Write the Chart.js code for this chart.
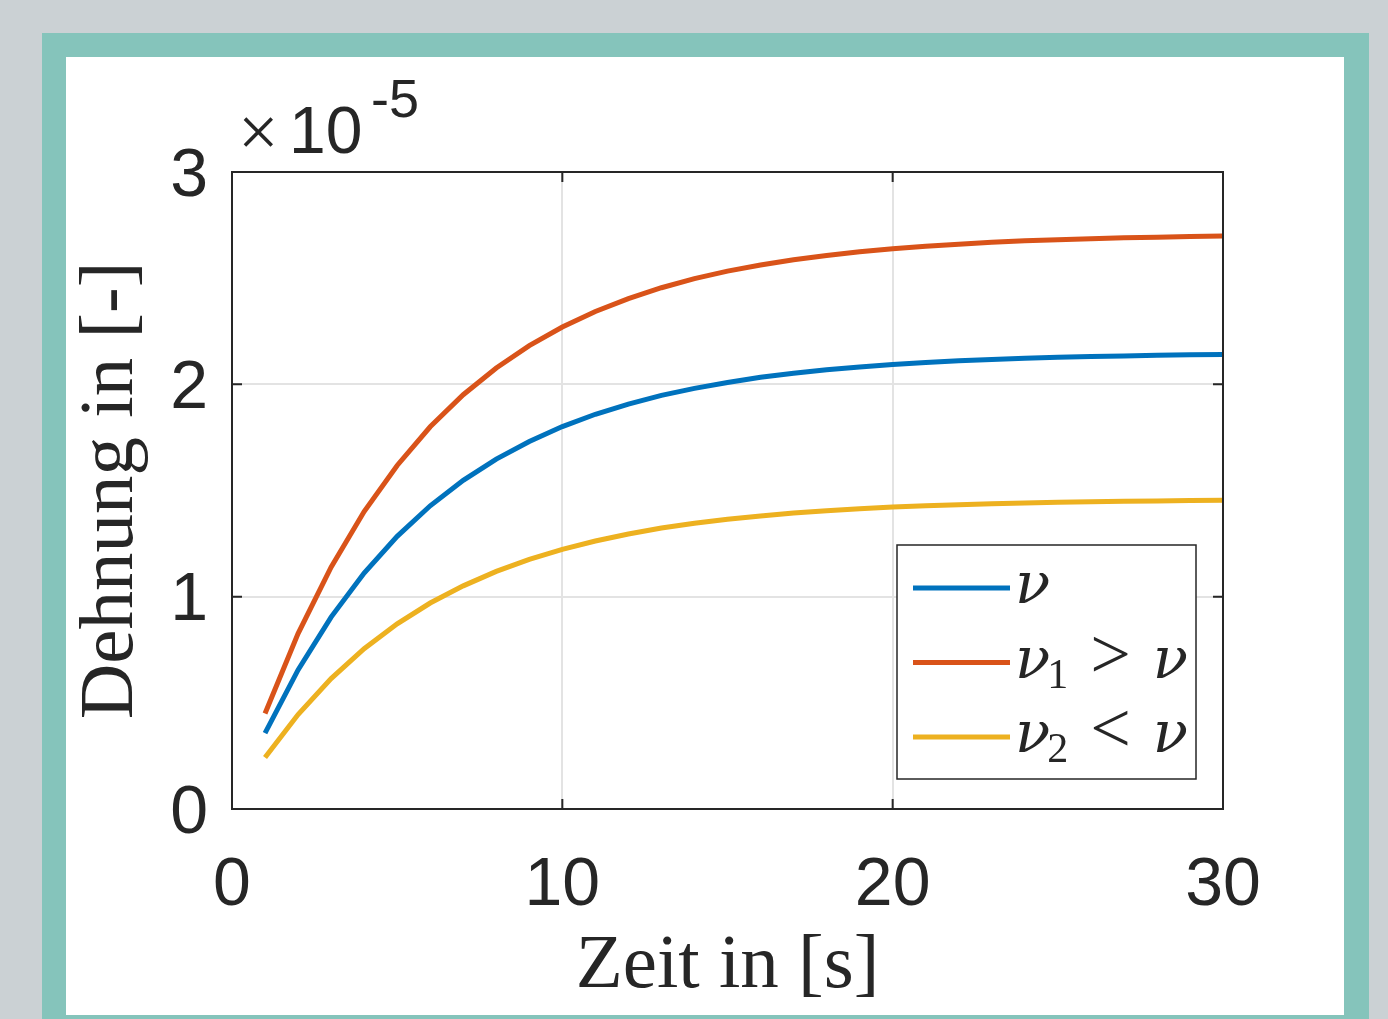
<!DOCTYPE html>
<html lang="de">
<head>
<meta charset="utf-8">
<title>Dehnung über Zeit</title>
<script src="https://cdn.jsdelivr.net/npm/chart.js@4.4.1/dist/chart.umd.min.js"></script>
<style>
  html, body { margin: 0; padding: 0; background: #cbd1d4; }
  #wrap { position: relative; width: 1388px; height: 1019px; }
</style>
</head>
<body>
<div id="wrap"><canvas id="dehnung-chart"></canvas></div>
<script>
// --- Daten (Dehnung in Einheiten von 1e-5) ---
const zeit = [1, 2, 3, 4, 5, 6, 7, 8, 9, 10, 11, 12, 13, 14, 15,
              16, 17, 18, 19, 20, 21, 22, 23, 24, 25, 26, 27, 28, 29, 30];
const dehnungNu = [0.357, 0.655, 0.904, 1.111, 1.284, 1.428, 1.548, 1.648, 1.731, 1.801,
                   1.859, 1.907, 1.948, 1.981, 2.009, 2.033, 2.052, 2.069, 2.082, 2.093,
                   2.103, 2.111, 2.117, 2.123, 2.127, 2.131, 2.134, 2.137, 2.139, 2.141];
const dehnungNu1 = [0.450, 0.826, 1.139, 1.401, 1.618, 1.800, 1.951, 2.077, 2.182, 2.270,
                    2.343, 2.404, 2.455, 2.498, 2.533, 2.562, 2.587, 2.607, 2.624, 2.639,
                    2.650, 2.660, 2.669, 2.676, 2.681, 2.686, 2.690, 2.693, 2.696, 2.698];
const dehnungNu2 = [0.243, 0.445, 0.614, 0.755, 0.872, 0.970, 1.051, 1.119, 1.176, 1.223,
                    1.262, 1.295, 1.323, 1.346, 1.365, 1.380, 1.394, 1.405, 1.414, 1.422,
                    1.428, 1.433, 1.438, 1.441, 1.445, 1.447, 1.449, 1.451, 1.453, 1.454];
const serienNamen = ['ν', 'ν₁ > ν', 'ν₂ < ν'];
const serienFarben = ['#0072BD', '#D95319', '#EDB120'];
const xTicks = [0, 10, 20, 30];
const yTicks = [0, 1, 2, 3];
const yExponent = '-5';

const achsenFarbe = '#262626';
const SANS = '"Liberation Sans", Arial, sans-serif';
const SERIF = '"Liberation Serif", "Times New Roman", serif';
const GRIECH = '"DejaVu Serif", serif';

const serien = [dehnungNu, dehnungNu1, dehnungNu2];

// --- Hintergrund: grauer Rand, türkiser Rahmen, weiße Fläche ---
const rahmenPlugin = {
    id: 'rahmen',
    beforeDraw(chart) {
        const { ctx, width, height } = chart;
        ctx.save();
        ctx.fillStyle = '#cbd1d4';
        ctx.fillRect(0, 0, width, height);
        ctx.fillStyle = '#85c4bb';
        ctx.fillRect(42, 33, 1327, height - 33);
        ctx.fillStyle = '#ffffff';
        ctx.fillRect(66, 57, 1278, 958);
        ctx.restore();
    }
};

// Zeichnet z.B. "ν₁ > ν" mit kursivem ν und tiefgestelltem Index
function zeichneLabel(ctx, text, x, y) {
    const sub = { '₁': '1', '₂': '2' };
    for (const ch of text) {
        if (ch === ' ') { x += 22; continue; }
        if (sub[ch]) {
            ctx.font = '42px ' + SERIF;
            ctx.fillText(sub[ch], x - 3, y + 10);
            x += ctx.measureText(sub[ch]).width - 3;
            continue;
        }
        if (ch === 'ν') {
            ctx.font = 'italic 58px ' + GRIECH;
        } else {
            ctx.font = '72px ' + SERIF;
        }
        ctx.fillText(ch, x, y);
        x += ctx.measureText(ch).width;
    }
}

// --- Achsenbox, Ticks nach innen, Exponent, Legende ---
const boxPlugin = {
    id: 'box',
    afterDatasetsDraw(chart) {
        const { ctx, chartArea: a, scales } = chart;
        ctx.save();
        ctx.strokeStyle = achsenFarbe;
        ctx.lineWidth = 2;
        ctx.strokeRect(a.left, a.top, a.right - a.left, a.bottom - a.top);

        const len = 10;
        ctx.beginPath();
        xTicks.forEach(v => {
            const px = scales.x.getPixelForValue(v);
            ctx.moveTo(px, a.bottom); ctx.lineTo(px, a.bottom - len);
            ctx.moveTo(px, a.top); ctx.lineTo(px, a.top + len);
        });
        yTicks.forEach(v => {
            const py = scales.y.getPixelForValue(v);
            ctx.moveTo(a.left, py); ctx.lineTo(a.left + len, py);
            ctx.moveTo(a.right, py); ctx.lineTo(a.right - len, py);
        });
        ctx.stroke();

        // Exponent ×10^-5
        ctx.fillStyle = achsenFarbe;
        ctx.textBaseline = 'alphabetic';
        ctx.textAlign = 'left';
        ctx.font = '72px ' + SERIF;
        ctx.fillText('×', a.left + 6, a.top - 16);
        ctx.font = '66px ' + SANS;
        ctx.fillText('10', a.left + 57, a.top - 19);
        ctx.font = '54px ' + SANS;
        ctx.fillText(yExponent, a.left + 139, a.top - 55);

        // Legende unten rechts
        const lx = a.right - 326, ly = a.bottom - 264, lw = 299, lh = 234;
        ctx.fillStyle = '#ffffff';
        ctx.fillRect(lx, ly, lw, lh);
        ctx.lineWidth = 1.5;
        ctx.strokeRect(lx, ly, lw, lh);
        chart.data.datasets.forEach((ds, i) => {
            const y = ly + 43 + i * 74.5;
            ctx.strokeStyle = ds.borderColor;
            ctx.lineWidth = 5;
            ctx.beginPath();
            ctx.moveTo(lx + 16, y);
            ctx.lineTo(lx + 113, y);
            ctx.stroke();
            ctx.fillStyle = achsenFarbe;
            zeichneLabel(ctx, ds.label, lx + 118, y + 15);
        });
        ctx.restore();
    }
};

const datasets = serien.map((werte, i) => ({
    label: serienNamen[i],
    data: zeit.map((t, j) => ({ x: t, y: werte[j] })),
    borderColor: serienFarben[i],
    backgroundColor: serienFarben[i],
    borderWidth: 5,
    pointRadius: 0,
    tension: 0,
    fill: false
}));

new Chart(document.getElementById('dehnung-chart'), {
    type: 'line',
    data: { datasets },
    options: {
        responsive: true,
        maintainAspectRatio: false,
        animation: false,
        layout: { padding: { left: 66, top: 172, right: 165, bottom: 0 } },
        plugins: {
            legend: { display: false },
            tooltip: { enabled: false }
        },
        scales: {
            x: {
                type: 'linear',
                min: 0,
                max: 30,
                afterBuildTicks: s => { s.ticks = xTicks.map(v => ({ value: v })); },
                afterFit: s => { s.height = 210; },
                border: { display: false },
                grid: { color: '#e3e3e3', lineWidth: 2, drawTicks: false },
                ticks: {
                    color: achsenFarbe,
                    padding: 36,
                    maxRotation: 0,
                    font: { family: SANS, size: 68 }
                },
                title: {
                    display: true,
                    text: 'Zeit in [s]',
                    color: achsenFarbe,
                    padding: { top: 0, bottom: 6 },
                    font: { family: SERIF, size: 77 }
                }
            },
            y: {
                type: 'linear',
                min: 0,
                max: 3,
                afterBuildTicks: s => { s.ticks = yTicks.map(v => ({ value: v })); },
                afterFit: s => { s.width = 166; },
                border: { display: false },
                grid: { color: '#e3e3e3', lineWidth: 2, drawTicks: false },
                ticks: {
                    color: achsenFarbe,
                    padding: 24,
                    labelOffset: 5,
                    font: { family: SANS, size: 68 }
                },
                title: {
                    display: true,
                    text: 'Dehnung in [-]',
                    color: achsenFarbe,
                    padding: 0,
                    font: { family: SERIF, size: 77 }
                }
            }
        }
    },
    plugins: [rahmenPlugin, boxPlugin]
});
</script>
</body>
</html>
